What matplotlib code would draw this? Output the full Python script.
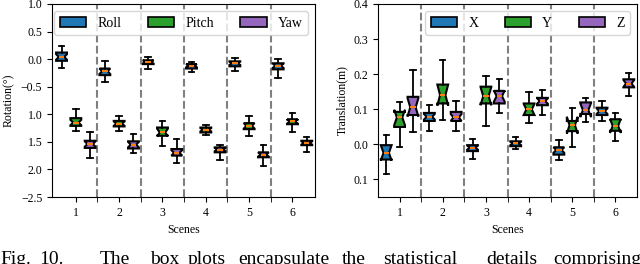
import matplotlib
matplotlib.use("Agg")
import matplotlib.pyplot as plt
from matplotlib.patches import Patch

plt.rcParams['font.family'] = ['Liberation Serif', 'DejaVu Serif']

scenes = [1, 2, 3, 4, 5, 6]

# (whisker low, q1, median, q3, whisker high) per scene
roll = [(-0.16, -0.03, 0.04, 0.12, 0.23), (-0.41, -0.29, -0.22, -0.17, -0.03),
        (-0.18, -0.09, -0.05, -0.02, 0.04), (-0.23, -0.17, -0.12, -0.09, -0.05),
        (-0.21, -0.13, -0.075, -0.04, 0.015), (-0.35, -0.185, -0.12, -0.075, 0.01)]
pitch = [(-1.30, -1.21, -1.15, -1.07, -0.90), (-1.30, -1.22, -1.17, -1.12, -1.03),
         (-1.58, -1.39, -1.33, -1.24, -1.12), (-1.38, -1.33, -1.28, -1.24, -1.20),
         (-1.39, -1.27, -1.21, -1.16, -1.04), (-1.32, -1.18, -1.13, -1.09, -0.98)]
yaw = [(-1.80, -1.61, -1.54, -1.48, -1.33), (-1.70, -1.62, -1.55, -1.49, -1.35),
       (-1.88, -1.75, -1.70, -1.63, -1.45), (-1.83, -1.69, -1.64, -1.60, -1.55),
       (-1.93, -1.78, -1.73, -1.69, -1.55), (-1.68, -1.56, -1.52, -1.48, -1.41)]
roll_notch = [0.05, 0.05, 0.03, 0.03, 0.03, 0.04]
pitch_notch = [0.05, 0.04, 0.07, 0.03, 0.05, 0.04]
yaw_notch = [0.05, 0.05, 0.05, 0.03, 0.04, 0.03]

tx = [(-0.086, -0.044, -0.025, -0.003, 0.026), (0.037, 0.066, 0.078, 0.089, 0.112),
      (-0.042, -0.020, -0.010, -0.003, 0.016), (-0.015, -0.006, 0.002, 0.008, 0.019),
      (-0.046, -0.030, -0.017, -0.009, 0.013), (0.066, 0.083, 0.094, 0.104, 0.124)]
ty = [(-0.009, 0.049, 0.076, 0.092, 0.120), (0.070, 0.116, 0.140, 0.170, 0.240),
      (0.052, 0.116, 0.137, 0.164, 0.195), (0.059, 0.083, 0.099, 0.116, 0.149),
      (-0.009, 0.037, 0.054, 0.066, 0.104), (0.009, 0.038, 0.052, 0.071, 0.088)]
tz = [(0.035, 0.083, 0.105, 0.135, 0.211), (0.037, 0.066, 0.076, 0.092, 0.122),
      (0.089, 0.116, 0.137, 0.152, 0.185), (0.083, 0.111, 0.123, 0.132, 0.154),
      (0.062, 0.086, 0.097, 0.119, 0.133), (0.138, 0.162, 0.173, 0.185, 0.204)]
tx_notch = [0.022, 0.008, 0.006, 0.005, 0.008, 0.008]
ty_notch = [0.022, 0.030, 0.026, 0.016, 0.024, 0.020]
tz_notch = [0.026, 0.010, 0.016, 0.008, 0.020, 0.010]

rot_ticks = [1.0, 0.5, 0.0, -0.5, -1.0, -1.5, -2.0, -2.5]
rot_labels = ['1.0', '0.5', '0.0', '\u22120.5', '1.0', '1.5', '2.0', '\u22122.5']
tr_ticks = [0.4, 0.3, 0.2, 0.1, 0.0, -0.1]
tr_labels = ['0.4', '0.3', '0.2', '0.1', '0.0', '0.1']

colors = ['#1f77b4', '#2ca02c', '#9467bd']


def make_stats(values, notch):
    out = []
    for (lo, q1, med, q3, hi), n in zip(values, notch):
        out.append(dict(whislo=lo, q1=q1, med=med, q3=q3, whishi=hi,
                        cilo=med - n, cihi=med + n, fliers=[]))
    return out


def draw(ax, series, notches, names, offset):
    for i, (vals, nt) in enumerate(zip(series, notches)):
        pos = [s + (i - 1) * offset for s in scenes]
        bp = ax.bxp(make_stats(vals, nt), positions=pos, widths=0.25,
                    shownotches=True, patch_artist=True, showfliers=False,
                    manage_ticks=False,
                    boxprops=dict(facecolor=colors[i], edgecolor='black', linewidth=1.5),
                    medianprops=dict(color='#ff7f0e', linewidth=1.5),
                    whiskerprops=dict(color='black', linewidth=1.3),
                    capprops=dict(color='black', linewidth=1.3))
    for b in [1.5, 2.5, 3.5, 4.5, 5.5]:
        ax.axvline(b, color='#808080', linestyle='--', linewidth=1.5, zorder=0)
    handles = [Patch(facecolor=c, edgecolor='black', linewidth=1.2) for c in colors]
    ax.legend(handles, names, ncol=3, loc='upper right', fontsize=10,
              handlelength=1.9, handletextpad=0.8, columnspacing=1.9)
    ax.set_xticks(scenes)
    ax.set_xticklabels([str(s) for s in scenes], fontsize=8.5)
    ax.set_xticks([1.5, 2.5, 3.5, 4.5, 5.5], minor=True)
    ax.tick_params(axis='x', which='minor', length=3.5)
    ax.set_xlabel('Scenes', fontsize=8.5)


fig = plt.figure(figsize=(6.4, 2.64), dpi=100)
ax1 = fig.add_axes([52 / 640, 67 / 264, 263 / 640, 193 / 264])
ax2 = fig.add_axes([378 / 640, 67 / 264, 259 / 640, 193 / 264])

draw(ax1, [roll, pitch, yaw], [roll_notch, pitch_notch, yaw_notch], ['Roll', 'Pitch', 'Yaw'], 0.33)
ax1.set_xlim(0.45, 6.52)
ax1.set_ylim(-2.5, 1.0)
ax1.set_yticks(rot_ticks)
ax1.set_yticklabels(rot_labels, fontsize=8.5)
ax1.set_ylabel('Rotation(\u00b0)', fontsize=8.5)

draw(ax2, [tx, ty, tz], [tx_notch, ty_notch, tz_notch], ['X', 'Y', 'Z'], 0.31)
ax2.set_xlim(0.5, 6.5)
ax2.set_ylim(-0.151, 0.4)
ax2.set_yticks(tr_ticks)
ax2.set_yticklabels(tr_labels, fontsize=8.5)
ax2.set_ylabel('Translation(m)', fontsize=8.5)

# caption (cropped at the bottom edge of the picture)
words = ['Fig.', '10.', 'The', 'box', 'plots', 'encapsulate', 'the',
         'statistical', 'details', 'comprising']
word_x = [0, 39, 100, 150, 188, 238, 342, 383, 486, 553]
for w, x in zip(words, word_x):
    fig.text(x / 640, 1 - 251 / 264, w, fontsize=14, va='top', ha='left')

fig.savefig('out.png', dpi=100)
